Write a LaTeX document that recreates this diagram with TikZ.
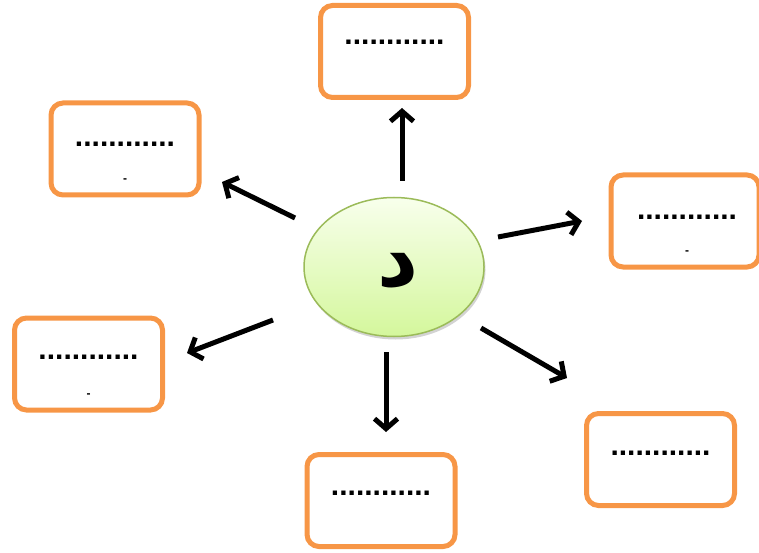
\documentclass[tikz,border=0pt]{standalone}
\usepackage{fontspec}
\setmainfont{Liberation Sans}
\newfontfamily\arabicfont[Script=Arabic]{DejaVu Sans}
\TeXXeTstate=1
\usetikzlibrary{arrows.meta,shadows,shapes.geometric}
\definecolor{boxorange}{HTML}{F79646}
\definecolor{elborder}{HTML}{9BBB59}
\definecolor{eltop}{HTML}{F8FFEC}
\definecolor{elbot}{HTML}{D4F79C}
\tikzset{
  blank/.style={draw=boxorange, line width=5pt, rounded corners=12pt, fill=white,
    minimum width=148pt, minimum height=92pt, inner sep=0pt},
  dots/.style={font=\bfseries\fontsize{30}{30}\selectfont, inner sep=0pt},
  tinydash/.style={font=\bfseries\fontsize{12}{12}\selectfont, inner sep=0pt},
  arr/.style={line width=5pt, -{Straight Barb[length=10pt,width=23pt]}},
}
\begin{document}
\begin{tikzpicture}[x=1pt,y=-1pt]
\useasboundingbox (0,0) rectangle (759,553);
% boxes
\node[blank] (top) at (394.5,51.5) {};
\node[blank] (lt) at (125,149) {};
\node[blank] (rt) at (685,221) {};
\node[blank] (lb) at (88.5,364) {};
\node[blank] (bot) at (381,500.5) {};
\node[blank] (rb) at (660.5,459.5) {};
% texts
\node[dots] (topd) at (394.5,42) {............};
\node[dots] (ltd) at (125,144) {............};
\node[tinydash] (ltm) at (125,181) {-};
\node[dots] (rtd) at (687,217) {............};
\node[tinydash] (rtm) at (687,253) {-};
\node[dots] (lbd) at (88.5,357) {............};
\node[tinydash] (lbm) at (88.5,396) {-};
\node[dots] (botd) at (381,493) {............};
\node[dots] (rbd) at (660.5,453) {............};
% center
\node[ellipse, draw=elborder, line width=1.5pt, top color=eltop, bottom color=elbot,
  minimum width=180pt, minimum height=139pt, inner sep=0pt,
  drop shadow={shadow xshift=1.5pt, shadow yshift=-3pt, opacity=0.35}] (center) at (394,267) {};
\node[inner sep=0pt] (letter) at (398,271)
  {\arabicfont\bfseries\fontsize{80}{80}\selectfont\beginR د\endR};
% arrows
\coordinate (s1) at (402,181); \coordinate (e1) at (402,108);
\coordinate (s2) at (295,218); \coordinate (e2) at (222,182);
\coordinate (s3) at (498,237); \coordinate (e3) at (582,221);
\coordinate (s4) at (273,320); \coordinate (e4) at (187,353);
\coordinate (s5) at (386,352); \coordinate (e5) at (386,432);
\coordinate (s6) at (481,328); \coordinate (e6) at (567,378);
\draw[arr] (s1) -- (e1);
\draw[arr] (s2) -- (e2);
\draw[arr] (s3) -- (e3);
\draw[arr] (s4) -- (e4);
\draw[arr] (s5) -- (e5);
\draw[arr] (s6) -- (e6);
\end{tikzpicture}
\end{document}
